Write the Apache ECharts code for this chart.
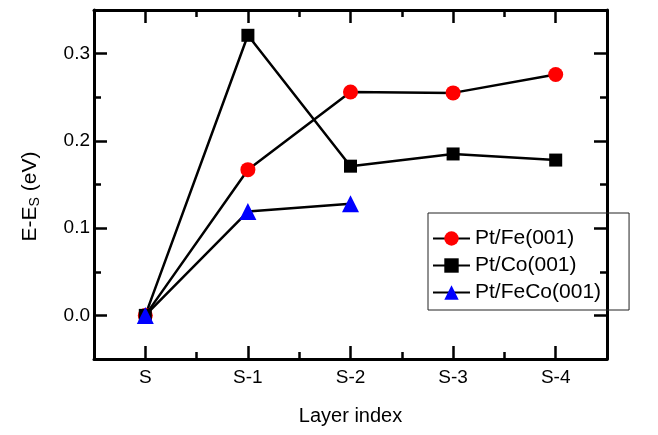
<!DOCTYPE html>
<html>
<head>
<meta charset="utf-8">
<script src="https://cdn.jsdelivr.net/npm/echarts@6/dist/echarts.min.js"></script>
<style>
  html, body { margin: 0; padding: 0; background: #fff; }
  #chart { width: 658px; height: 435px; }
</style>
</head>
<body>
<div id="chart"></div>
<script>
// Layer labels along the x axis
const layers = ['S', 'S-1', 'S-2', 'S-3', 'S-4'];

// Relative energies E - E_S (eV) for each surface system
const ptFe = [0.0, 0.167, 0.256, 0.255, 0.276];
const ptCo = [0.0, 0.321, 0.171, 0.185, 0.178];
const ptFeCo = [0.0, 0.119, 0.128];

// Tick positions
const xMajor = [0, 1, 2, 3, 4];
const xMinor = [0.5, 1.5, 2.5, 3.5];
const yMajor = [0.0, 0.1, 0.2, 0.3];
const yMinor = [0.05, 0.15, 0.25];

const FONT = 'Liberation Sans, Arial, Helvetica, sans-serif';
const frameLine = { show: true, onZero: false, lineStyle: { color: '#000', width: 3 } };
const noLine = { show: false, onZero: false };

function toPairs(vals) {
  return vals.map((v, i) => [i, v]);
}

function xAxisDef(pos, ticks, len, withLabels, withLine) {
  return {
    type: 'value', position: pos, min: -0.5, max: 4.5,
    axisLine: withLine ? frameLine : noLine,
    splitLine: { show: false },
    axisTick: { show: true, inside: true, length: len, customValues: ticks,
      lineStyle: { color: '#000', width: 2.5 } },
    axisLabel: withLabels ? {
      show: true, customValues: xMajor, margin: 9,
      formatter: v => layers[Math.round(v)],
      color: '#000', fontFamily: FONT, fontSize: 19
    } : { show: false }
  };
}

function yAxisDef(pos, ticks, len, withLabels, withLine) {
  return {
    type: 'value', position: pos, min: -0.05, max: 0.35,
    axisLine: withLine ? frameLine : noLine,
    splitLine: { show: false },
    axisTick: { show: true, inside: true, length: len, customValues: ticks,
      lineStyle: { color: '#000', width: 2.5 } },
    axisLabel: withLabels ? {
      show: true, customValues: yMajor, margin: 4,
      formatter: v => v.toFixed(1),
      color: '#000', fontFamily: FONT, fontSize: 19
    } : { show: false }
  };
}

const xAxes = [
  xAxisDef('bottom', xMajor, 13, true, true),
  xAxisDef('bottom', xMinor, 7, false, false),
  xAxisDef('top', xMajor, 13, false, true),
  xAxisDef('top', xMinor, 7, false, false)
];
xAxes[0].name = 'Layer index';
xAxes[0].nameLocation = 'middle';
xAxes[0].nameGap = 47;
xAxes[0].nameTextStyle = { color: '#000', fontFamily: FONT, fontSize: 20 };

const yAxes = [
  yAxisDef('left', yMajor, 13, true, true),
  yAxisDef('left', yMinor, 7, false, false),
  yAxisDef('right', yMajor, 13, false, true),
  yAxisDef('right', yMinor, 7, false, false)
];
yAxes[0].name = '{m|E-E}{s|S}{m| (eV)}';
yAxes[0].nameLocation = 'middle';
yAxes[0].nameGap = 52;
yAxes[0].nameTextStyle = {
  color: '#000', fontFamily: FONT, fontSize: 21, padding: [0, 24, 0, 0],
  rich: {
    m: { fontFamily: FONT, fontSize: 21, color: '#000' },
    s: { fontFamily: FONT, fontSize: 14, color: '#000', verticalAlign: 'bottom', padding: [10, 0, 0, 0] }
  }
};

function lineSeries(name, vals, symbol, size, color) {
  return {
    name, type: 'line', xAxisIndex: 0, yAxisIndex: 0,
    data: toPairs(vals),
    symbol, symbolSize: size, showAllSymbol: true,
    lineStyle: { color: '#000', width: 2.5 },
    itemStyle: { color: color, borderWidth: 0 },
    emphasis: { disabled: true },
    animation: false
  };
}

const chart = echarts.init(document.getElementById('chart'), null, { renderer: 'canvas' });
chart.setOption({
  backgroundColor: '#fff',
  animation: false,
  grid: { left: 94, right: 51, top: 10, bottom: 76, containLabel: false },
  xAxis: xAxes,
  yAxis: yAxes,
  legend: {
    orient: 'vertical', left: 428, top: 213,
    width: 201,
    borderColor: '#222', borderWidth: 1,
    padding: [15, 28, 7, 4],
    itemWidth: 37, itemHeight: 18, itemGap: 6,
    textStyle: { color: '#000', fontFamily: FONT, fontSize: 21 },
    data: ['Pt/Fe(001)', 'Pt/Co(001)', 'Pt/FeCo(001)']
  },
  series: [
    lineSeries('Pt/Fe(001)', ptFe, 'circle', 15, '#ff0000'),
    lineSeries('Pt/Co(001)', ptCo, 'rect', 13, '#000000'),
    lineSeries('Pt/FeCo(001)', ptFeCo, 'triangle', 17, '#0000ff')
  ]
});
</script>
</body>
</html>
